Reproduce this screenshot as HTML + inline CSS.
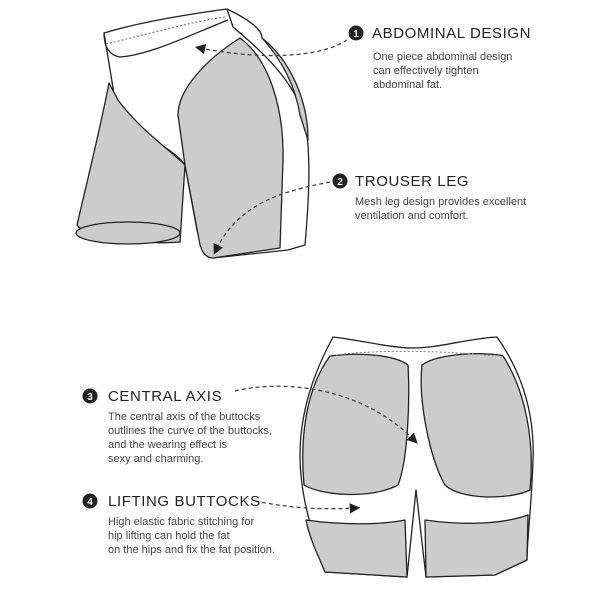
<!DOCTYPE html>
<html><head><style>
html,body{margin:0;padding:0;background:#fff;}
svg{display:block;}
.h{font-family:"Liberation Sans",sans-serif;font-size:15px;fill:#222;letter-spacing:0.6px;}
.b{font-family:"Liberation Sans",sans-serif;font-size:11px;fill:#444;}
.n{font-family:"Liberation Sans",sans-serif;font-size:10px;font-weight:bold;fill:#fff;}
</style></head><body>
<svg width="600" height="600" viewBox="0 0 600 600" xmlns="http://www.w3.org/2000/svg">
<defs><marker id="ar" markerWidth="8" markerHeight="8" refX="4" refY="4" orient="auto"><path d="M0,0 L8,4 L0,8 Z" fill="#222"/></marker></defs>
<!-- top shorts -->
<g stroke="#222" stroke-width="1.3" stroke-linejoin="round">
<path d="M104,33 C140,22 190,14 227,9 L233,27 C260,50 295,80 305,120 C312,160 308,210 305,245 L288,250 L213,258 C205,250 200,240 197,230 L185,165 C175,150 150,140 130,125 L115,100 Z" fill="#fff"/>
<path d="M109,83 C100,130 85,190 77,225 C85,238 150,245 180,242 L185,165 C170,150 140,130 118,100 Z" fill="#ccc"/>
<ellipse cx="128" cy="233" rx="52" ry="11" fill="#ccc"/>
<path d="M240,38 C205,60 178,90 178,115 L185,165 L200,245 C203,255 208,258 213,258 L280,248 L283,160 C284,110 270,60 240,38 Z" fill="#ccc"/>
<path d="M262,38 C290,60 308,100 308,140 L300,115 C295,85 282,60 262,38 Z" fill="#ccc"/>
<path d="M104,33 C104,45 108,55 120,57 C150,55 190,35 228,20" fill="none"/>
<path d="M227,9 C250,20 262,30 262,38" fill="none"/>
</g>
<path d="M106,44 C140,36 190,22 225,17" stroke="#666" stroke-dasharray="2,2" fill="none"/>
<!-- bottom shorts -->
<g stroke="#222" stroke-width="1.3" stroke-linejoin="round">
<path d="M333,337 C360,340 390,348 413,348 C440,348 470,338 497,337 C520,370 535,410 533,460 C532,500 527,540 527,560 L495,575 L426,577 L416,490 L407,577 L325,572 C315,540 300,500 300,455 C300,410 315,370 333,337 Z" fill="#fff"/>
<path d="M330,356 C360,352 395,355 408,365 C410,400 408,460 398,485 C370,500 320,495 304,485 C300,440 305,390 330,356 Z" fill="#ccc"/>
<path d="M422,365 C440,352 490,352 503,356 C525,390 535,440 530,490 C510,500 460,500 445,485 C430,460 418,400 422,365 Z" fill="#ccc"/>
<path d="M306,520 C340,525 380,525 405,520 L407,577 L325,572 C318,555 310,540 306,520 Z" fill="#ccc"/>
<path d="M425,520 C460,525 500,525 528,515 L527,560 L495,575 L426,577 Z" fill="#ccc"/>
</g>
<path d="M336,355 C370,350 440,350 495,356" stroke="#888" stroke-dasharray="2,2" fill="none"/>
<!-- dashed connectors -->
<g stroke="#444" stroke-width="1.3" stroke-dasharray="4,3" fill="none">
<path d="M347,40 C320,58 260,60 200,48" marker-end="url(#ar)"/>
<path d="M330,182 C290,190 240,200 216,250" marker-end="url(#ar)"/>
<path d="M235,391 C280,380 360,385 414,440" marker-end="url(#ar)"/>
<path d="M255,501 C290,508 320,510 355,508" marker-end="url(#ar)"/>
</g>
<!-- labels -->
<circle cx="356" cy="33" r="7.5" fill="#222"/><text class="n" x="356" y="37" text-anchor="middle">1</text>
<text class="h" x="372" y="38">ABDOMINAL DESIGN</text>
<text class="b" x="373" y="60">One piece abdominal design</text>
<text class="b" x="373" y="74">can effectively tighten</text>
<text class="b" x="373" y="88">abdominal fat.</text>
<circle cx="340" cy="181" r="7.5" fill="#222"/><text class="n" x="340" y="185" text-anchor="middle">2</text>
<text class="h" x="355" y="186">TROUSER LEG</text>
<text class="b" x="355" y="205">Mesh leg design provides excellent</text>
<text class="b" x="355" y="219">ventilation and comfort.</text>
<circle cx="90" cy="396" r="7.5" fill="#222"/><text class="n" x="90" y="400" text-anchor="middle">3</text>
<text class="h" x="108" y="401">CENTRAL AXIS</text>
<text class="b" x="108" y="420">The central axis of the buttocks</text>
<text class="b" x="108" y="434">outlines the curve of the buttocks,</text>
<text class="b" x="108" y="448">and the wearing effect is</text>
<text class="b" x="108" y="462">sexy and charming.</text>
<circle cx="90" cy="501" r="7.5" fill="#222"/><text class="n" x="90" y="505" text-anchor="middle">4</text>
<text class="h" x="108" y="506">LIFTING BUTTOCKS</text>
<text class="b" x="108" y="525">High elastic fabric stitching for</text>
<text class="b" x="108" y="539">hip lifting can hold the fat</text>
<text class="b" x="108" y="553">on the hips and fix the fat position.</text>
</svg>
</body></html>
